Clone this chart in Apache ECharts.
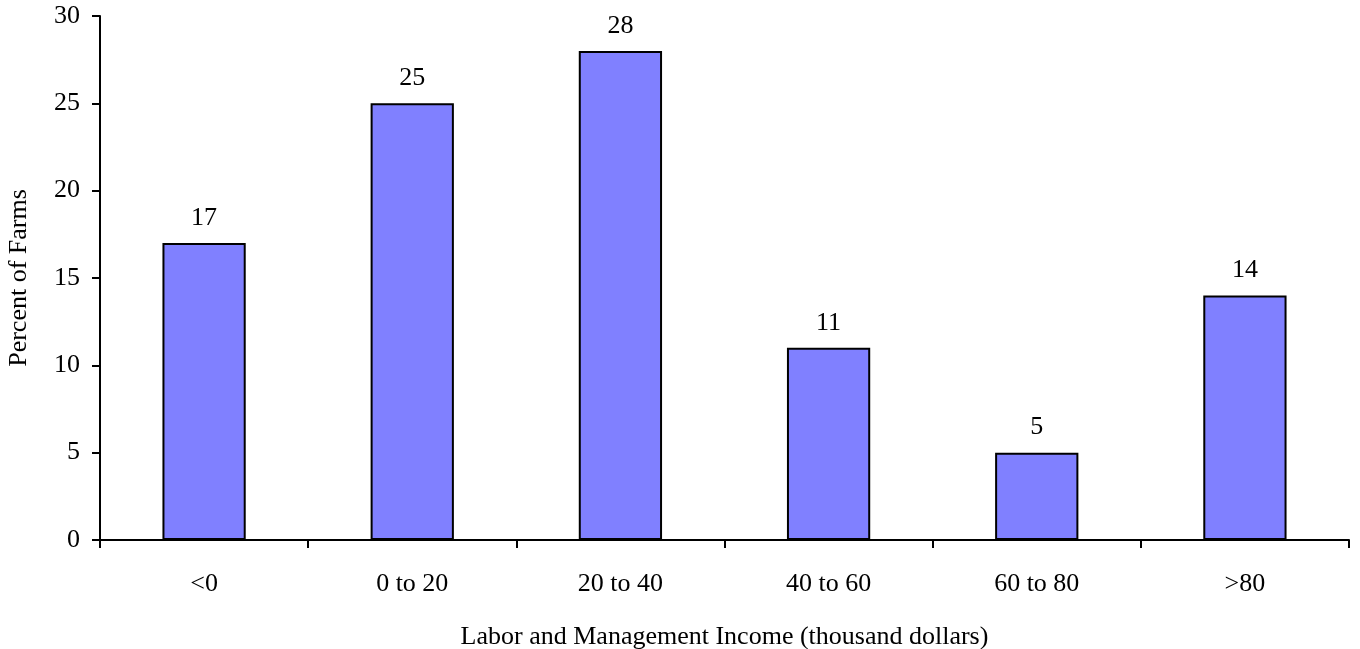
<!DOCTYPE html>
<html>
<head>
<meta charset="utf-8">
<style>
  html, body { margin: 0; padding: 0; background: #fff; }
  #chart { width: 1360px; height: 649px; }
</style>
<script src="https://cdn.jsdelivr.net/npm/echarts@6/dist/echarts.min.js"></script>
</head>
<body>
<div id="chart"></div>
<script>
// Share of farms by labor and management income bracket
const categories = ['<0', '0 to 20', '20 to 40', '40 to 60', '60 to 80', '>80'];
const percentFarms = [17, 25, 28, 11, 5, 14];
const yTicks = { min: 0, max: 30, interval: 5 };

const font = 'Liberation Serif, Times New Roman, serif';
const chart = echarts.init(document.getElementById('chart'), null, { renderer: 'canvas' });

chart.setOption({
  animation: false,
  backgroundColor: '#ffffff',
  grid: {
    left: 100, right: 11, top: 16, bottom: 109,
    containLabel: false,
    outerBoundsMode: 'none'
  },
  xAxis: {
    type: 'category',
    data: categories,
    name: 'Labor and Management Income (thousand dollars)',
    nameLocation: 'middle',
    nameGap: 84,
    nameTextStyle: { fontFamily: font, fontSize: 26, color: '#000' },
    axisLine: { lineStyle: { color: '#000', width: 2 } },
    axisTick: { show: true, alignWithLabel: false, length: 8, lineStyle: { color: '#000', width: 2 } },
    axisLabel: { fontFamily: font, fontSize: 26, color: '#000', margin: 31 },
    splitLine: { show: false }
  },
  yAxis: {
    type: 'value',
    min: yTicks.min,
    max: yTicks.max,
    interval: yTicks.interval,
    name: 'Percent of Farms',
    nameLocation: 'middle',
    nameGap: 68,
    nameRotate: 90,
    nameTextStyle: { fontFamily: font, fontSize: 26, color: '#000' },
    axisLine: { show: true, lineStyle: { color: '#000', width: 2 } },
    axisTick: { show: true, length: 8, lineStyle: { color: '#000', width: 2 } },
    axisLabel: { fontFamily: font, fontSize: 26, color: '#000', margin: 20 },
    splitLine: { show: false }
  },
  series: [{
    type: 'bar',
    data: percentFarms,
    barWidth: '40%',
    itemStyle: { color: '#8080ff', borderColor: '#000', borderWidth: 2 },
    label: {
      show: true,
      position: 'top',
      distance: 12,
      fontFamily: font,
      fontSize: 26,
      color: '#000'
    }
  }]
});
</script>
</body>
</html>
